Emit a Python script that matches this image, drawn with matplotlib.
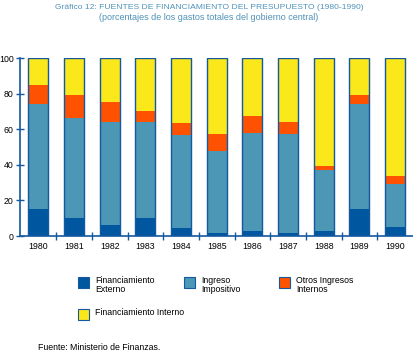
import matplotlib.pyplot as plt
from matplotlib.patches import Rectangle
import numpy as np

plt.rcParams['font.family'] = ['Liberation Sans', 'DejaVu Sans']

years = ['1980', '1981', '1982', '1983', '1984', '1985',
         '1986', '1987', '1988', '1989', '1990']
externo = [15, 10, 6, 10, 4.7, 1.5, 3, 1.5, 3, 15, 5.3]
impositivo = [59, 56.5, 58, 54, 52, 46, 54.7, 56, 34, 59, 23.7]
otros = [11, 13, 11.3, 6.4, 6.7, 9.7, 9.5, 6.4, 2.6, 5.4, 4.9]
interno = [15, 20.5, 24.7, 29.6, 36.6, 42.8, 32.8, 36.1, 60.4, 20.6, 66.1]

series = [externo, impositivo, otros, interno]
labels = ['Financiamiento\nExterno', 'Ingreso\nImpositivo',
          'Otros Ingresos\nInternos', 'Financiamiento Interno']
colors = ['#00579F', '#4C96B6', '#FF5200', '#FAE81A']
edge = '#1458A0'

fig = plt.figure(figsize=(4.14, 3.51), dpi=100)
ax = fig.add_axes([0.0495, 0.3276, 0.948, 0.507])

x = np.arange(len(years))
w = 0.56
bottom = np.zeros(len(years))
for vals, c in zip(series, colors):
    ax.bar(x, vals, w, bottom=bottom, color=c, linewidth=0)
    bottom += np.array(vals)
ax.bar(x, bottom, w, fill=False, edgecolor=edge, linewidth=1.0)

ax.set_xlim(-0.5, len(years) - 0.5)
ax.set_ylim(0, 100)
ax.set_yticks([0, 20, 40, 60, 80, 100])
ax.set_xticks(x)
ax.set_xticklabels(years)
ax.set_xticks(np.arange(0.5, len(years) - 0.5, 1), minor=True)
ax.tick_params(axis='x', which='major', length=0, pad=4, labelsize=6.3)
ax.tick_params(axis='x', which='minor', direction='inout', length=6,
               color=edge, width=1)
ax.tick_params(axis='y', direction='inout', length=6, color=edge, width=1,
               pad=2, labelsize=6.3)
for s in ['top', 'right']:
    ax.spines[s].set_visible(False)
for s in ['left', 'bottom']:
    ax.spines[s].set_color(edge)
    ax.spines[s].set_linewidth(1.2)

title_col = '#4F92B8'
fig.text(0.505, 0.99, 'Gráfico 12: FUENTES DE FINANCIAMIENTO DEL PRESUPUESTO (1980-1990)',
         ha='center', va='top', fontsize=6.1, color=title_col)
fig.text(0.505, 0.963, '(porcentajes de los gastos totales del gobierno central)',
         ha='center', va='top', fontsize=6.5, color=title_col)

# legend drawn by hand to keep the original layout
pos = [(78, 277), (184, 277), (279, 277), (78, 309)]
for (px, py), lab, c in zip(pos, labels, colors):
    fig.add_artist(Rectangle((px / 414, 1 - (py + 11) / 351), 11 / 414, 11 / 351,
                             facecolor=c, edgecolor=edge, linewidth=0.8,
                             transform=fig.transFigure))
    fig.text((px + 17) / 414, 1 - (py - 1) / 351, lab, ha='left', va='top',
             fontsize=6.3, linespacing=0.95)

fig.text(38 / 414, 1 - 348 / 351, 'Fuente: Ministerio de Finanzas.',
         ha='left', va='center', fontsize=6.3)

fig.savefig('out.png', dpi=100)
